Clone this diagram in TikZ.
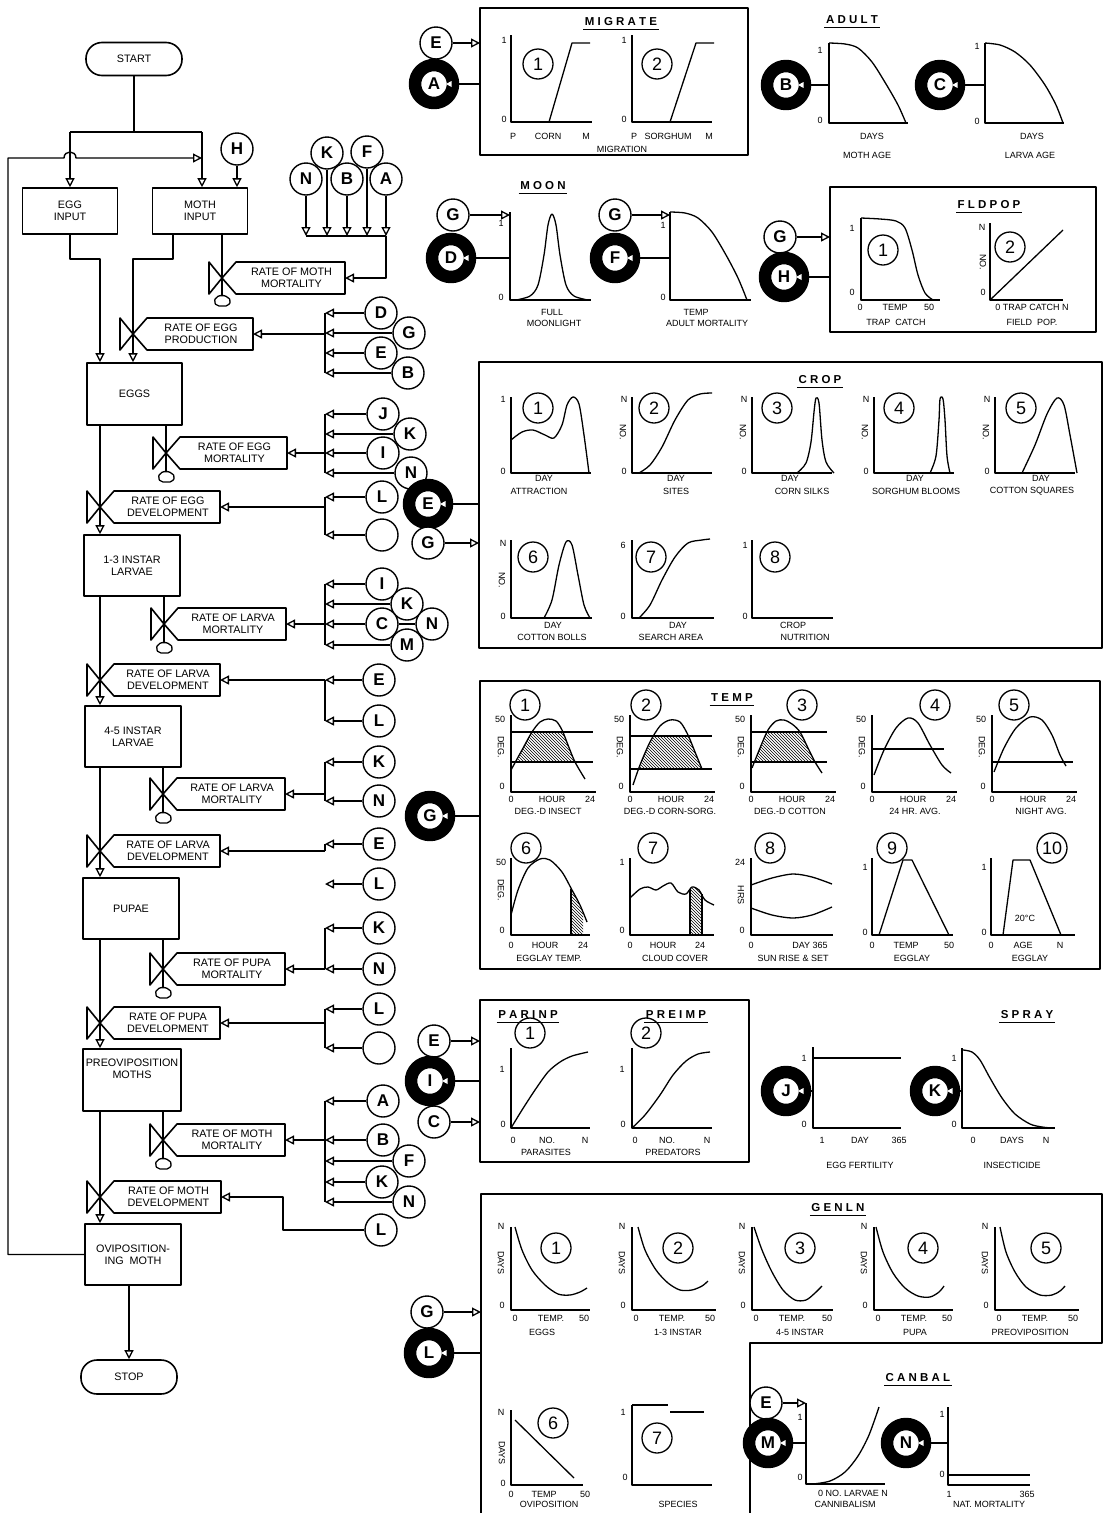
\documentclass[tikz,border=0pt]{standalone}
\usepackage{fontspec}
\setmainfont{Liberation Sans}
\usetikzlibrary{arrows.meta,patterns}
\newcounter{lc}
\newcommand\fB{\fontsize{10.8}{11.8}\selectfont}
\newcommand\fS{\fontsize{9}{9.5}\selectfont}
\newcommand\fC{\bfseries\fontsize{17}{17}\selectfont}
\newcommand\fN{\fontsize{18}{18}\selectfont}
\newcommand\fH{\bfseries\fontsize{11.5}{11.5}\selectfont}
\newcommand\mylab[4][]{\stepcounter{lc}\node[lab,#1] (t\thelc) at (#2,#3) {#4};}
\newcommand\numc[3]{\stepcounter{lc}\node[nc] (n\thelc) at (#1,#2) {#3};}
\newcommand\axes[4]{\draw[ax] (#1,#2) -- (#1,#3) -- (#4,#3);}
\newcommand\ttl[4]{\node[font=\fH, inner sep=1pt] (#1) at (#2,#3) {#4};
  \draw[line width=1.2pt] ([yshift=-1.5pt]#1.south west) -- ([yshift=-1.5pt]#1.south east);}
\newcommand\wtri[1]{\fill[white] ([xshift=12pt]#1.center) -- ([xshift=17.5pt,yshift=3pt]#1.center) -- ([xshift=17.5pt,yshift=-3pt]#1.center) -- cycle;}
\newcommand\ratebox[5]{%
  \draw[line width=1.6pt] (#2-13,#3-16) -- (#2,#3) -- (#2-13,#3+16) -- cycle;
  \draw[line width=1.6pt] (#2,#3) -- (#2+14,#3-16) -- (#4,#3-16) -- (#4,#3+16) -- (#2+14,#3+16) -- cycle;
  \node[rt] (#1) at ({(#2+16+#4)/2},#3) {#5};
  \coordinate (#1-in) at (#4,#3);
  \coordinate (#1-v) at (#2,#3);}
\newcommand\cloud[3]{%
  \draw[line width=1.3pt, rounded corners=2pt] (#2-8,#3+1) -- (#2-6,#3-4) -- (#2,#3-6) -- (#2+6,#3-4) -- (#2+9,#3) -- (#2+6,#3+5) -- (#2-5,#3+5) -- cycle;
  \coordinate (#1) at (#2,#3-6);}
\begin{document}
\begin{tikzpicture}[x=1pt,y=-1pt, line width=1.4pt, line join=round,
 tri/.style={-{Triangle[open,length=9pt,width=9pt,line width=1.3pt]}},
 box/.style={draw,line width=1.6pt,minimum width=96pt,minimum height=61pt,inner sep=1pt,align=center,font=\fB},
 term/.style={draw,line width=1.6pt,rounded corners=16pt,minimum width=96pt,minimum height=33pt,font=\fB},
 lc/.style={circle,draw,fill=white,line width=1.4pt,minimum size=32pt,inner sep=0pt,font=\fC},
 bc/.style={circle,draw,fill=white,line width=12.5pt,minimum size=38pt,inner sep=0pt,font=\fC},
 nc/.style={circle,draw,line width=1.3pt,minimum size=30pt,inner sep=0pt,font=\fN},
 ax/.style={line width=1.6pt},
 cv/.style={line width=1.3pt},
 lab/.style={font=\fS,inner sep=0pt},
 rt/.style={font=\fB,align=center,inner sep=0pt},
 panel/.style={draw,line width=1.7pt,inner sep=0pt,outer sep=0pt}]
\fill[white] (0,0) rectangle (1108,1513);
\useasboundingbox (0,0) rectangle (1108,1513);

% ================= FLOWCHART =================
\node[term] (start) at (134,59) {START};
\coordinate (j0) at (134,132);
\coordinate (jl) at (70,132);
\coordinate (jr) at (202,132);
\node[box,minimum width=95pt,minimum height=46pt] (egginput) at (70,211) {EGG\\INPUT};
\node[box,minimum width=95pt,minimum height=46pt] (mothinput) at (200,211) {MOTH\\INPUT};
\draw (start) -- (j0);
\draw (jl) -- (jr);
\draw[tri] (jl) -- (egginput.north -| jl);
\draw[tri] (jr) -- (mothinput.north -| jr);
\node[lc] (Htop) at (237,149) {H};
\draw[tri] (Htop) -- (mothinput.north -| Htop);

\node[lc] (Nt) at (306,179) {N};
\node[lc] (Kt) at (327,153) {K};
\node[lc] (Ft) at (367,152) {F};
\node[lc] (Bt) at (347,179) {B};
\node[lc] (At) at (386,179) {A};
\coordinate (barM) at (306,236);
\draw (barM) -- (At |- barM);
\foreach \c in {Nt,Kt,Bt,Ft,At} \draw[tri] (\c) -- (\c |- barM);

\ratebox{rmm}{222}{278}{345}{RATE OF MOTH\\MORTALITY}
\cloud{cl1}{222}{301}
\draw (mothinput.south -| rmm-v) -- (cl1);
\draw[tri] (At |- barM) |- (rmm-in);

\node[box,minimum width=95pt,minimum height=62pt] (eggs) at (134.5,394) {EGGS};
\ratebox{rep}{133}{334}{253}{RATE OF EGG\\PRODUCTION}
\ratebox{rem}{166}{453}{287}{RATE OF EGG\\MORTALITY}
\cloud{cl2}{166}{477}
\ratebox{red}{100}{507}{220}{RATE OF EGG\\DEVELOPMENT}
\draw[tri] (egginput.south) -- ++(0,24) -| (eggs.north -| red-v);
\draw[tri] ([xshift=-27pt]mothinput.south) -- ++(0,24) -| (eggs.north -| rep-v);

\node[lc] (Dp) at (381,313) {D};
\node[lc] (Gp) at (409,333) {G};
\node[lc] (Ep) at (381,353) {E};
\node[lc] (Bp) at (408,373) {B};
\coordinate (brP) at (325,313);
\draw (brP) -- (Bp -| brP);
\foreach \c in {Dp,Gp,Ep,Bp} \draw[tri] (\c) -- (\c -| brP);
\draw[tri] (rep-in -| brP) -- (rep-in);

\node[lc] (Jm) at (383,414) {J};
\node[lc] (Km) at (410,434) {K};
\node[lc] (Im) at (383,453) {I};
\node[lc] (Nm) at (411,473) {N};
\coordinate (brEM) at (325,414);
\draw (brEM) -- (Nm -| brEM);
\foreach \c in {Jm,Km,Im,Nm} \draw[tri] (\c) -- (\c -| brEM);
\draw[tri] (rem-in -| brEM) -- (rem-in);
\draw (eggs.south -| rem-v) -- (cl2);

\node[lc] (Ld) at (382,497) {L};
\node[lc] (Od) at (382,535) {};
\coordinate (brED) at (325,497);
\draw (brED) -- (Od -| brED);
\foreach \c in {Ld,Od} \draw[tri] (\c) -- (\c -| brED);
\draw[tri] (red-in -| brED) -- (red-in);

\node[box] (i13) at (132,565.5) {1-3 INSTAR\\LARVAE};
\draw[tri] (eggs.south -| red-v) -- (i13.north -| red-v);
\ratebox{rlm1}{164}{624}{286}{RATE OF LARVA\\MORTALITY}
\cloud{cl3}{164}{648}
\draw (i13.south -| rlm1-v) -- (cl3);
\node[lc] (Il) at (382,584) {I};
\node[lc] (Kl) at (407,604) {K};
\node[lc] (Nl) at (432,624) {N};
\node[lc] (Cl) at (382,624) {C};
\node[lc] (Ml) at (407,645) {M};
\coordinate (brLM1) at (325,584);
\draw (brLM1) -- (Ml -| brLM1);
\foreach \c in {Il,Kl,Cl,Ml} \draw[tri] (\c) -- (\c -| brLM1);
\draw (Cl) -- (Nl);
\draw[tri] (rlm1-in -| brLM1) -- (rlm1-in);

\ratebox{rld1}{100}{680}{220}{RATE OF LARVA\\DEVELOPMENT}
\node[lc] (Ea) at (379,680) {E};
\node[lc] (La) at (379,721) {L};
\coordinate (brLD1) at (325,680);
\draw (brLD1) -- (La -| brLD1);
\foreach \c in {Ea,La} \draw[tri] (\c) -- (\c -| brLD1);
\draw[tri] (rld1-in -| brLD1) -- (rld1-in);

\node[box] (i45) at (133,736.5) {4-5 INSTAR\\LARVAE};
\draw[tri] (i13.south -| rld1-v) -- (i45.north -| rld1-v);
\ratebox{rlm2}{163}{794}{285}{RATE OF LARVA\\MORTALITY}
\cloud{cl4}{163}{818}
\draw (i45.south -| rlm2-v) -- (cl4);
\node[lc] (Kb) at (379,762) {K};
\node[lc] (Nb) at (379,801) {N};
\coordinate (brLM2) at (325,762);
\draw (brLM2) -- (Nb -| brLM2);
\foreach \c in {Kb,Nb} \draw[tri] (\c) -- (\c -| brLM2);
\draw[tri] (rlm2-in -| brLM2) -- (rlm2-in);

\ratebox{rld2}{100}{851}{220}{RATE OF LARVA\\DEVELOPMENT}
\node[lc] (Eb) at (379,844) {E};
\coordinate (brLD2) at (325,844);
\draw (brLD2) -- (rld2-in -| brLD2);
\draw[tri] (Eb) -- (Eb -| brLD2);
\draw[tri] (rld2-in -| brLD2) -- (rld2-in);
\node[lc] (Lb) at (379,884) {L};
\coordinate (brL2) at (325,884);
\draw[tri] (Lb) -- (brL2);

\node[box] (pupae) at (131,908.5) {PUPAE};
\draw[tri] (i45.south -| rld2-v) -- (pupae.north -| rld2-v);
\ratebox{rpm}{163}{969}{285}{RATE OF PUPA\\MORTALITY}
\cloud{cl5}{163}{993}
\draw (pupae.south -| rpm-v) -- (cl5);
\node[lc] (Kc) at (379,928) {K};
\node[lc] (Nc) at (379,969) {N};
\coordinate (brPM) at (325,928);
\draw (brPM) -- (Nc -| brPM);
\foreach \c in {Kc,Nc} \draw[tri] (\c) -- (\c -| brPM);
\draw[tri] (rpm-in -| brPM) -- (rpm-in);

\ratebox{rpd}{100}{1023}{220}{RATE OF PUPA\\DEVELOPMENT}
\node[lc] (Lc) at (379,1009) {L};
\node[lc] (Oc) at (379,1048) {};
\coordinate (brPD) at (325,1009);
\draw (brPD) -- (Oc -| brPD);
\foreach \c in {Lc,Oc} \draw[tri] (\c) -- (\c -| brPD);
\draw[tri] (rpd-in -| brPD) -- (rpd-in);

\node[box,minimum width=98pt,minimum height=62pt] (preov) at (132,1080) {};
\node[rt] (preovt) at (132,1069) {PREOVIPOSITION\\MOTHS};
\draw[tri] (pupae.south -| rpd-v) -- (preov.north -| rpd-v);
\ratebox{rmm2}{163}{1140}{285}{RATE OF MOTH\\MORTALITY}
\cloud{cl6}{163}{1164}
\draw (preov.south -| rmm2-v) -- (cl6);
\node[lc] (Ae) at (383,1101) {A};
\node[lc] (Be) at (383,1140) {B};
\node[lc] (Fe) at (409,1161) {F};
\node[lc] (Ke) at (382,1182) {K};
\node[lc] (Ne) at (409,1202) {N};
\coordinate (brMM) at (325,1101);
\draw (brMM) -- (Ne -| brMM);
\foreach \c in {Ae,Be,Fe,Ke,Ne} \draw[tri] (\c) -- (\c -| brMM);
\draw[tri] (rmm2-in -| brMM) -- (rmm2-in);

\ratebox{rmd}{100}{1197}{221}{RATE OF MOTH\\DEVELOPMENT}
\node[lc] (Lf) at (381,1230) {L};
\coordinate (mdk) at (283,1230);
\draw[tri] (Lf) -- (mdk) |- (rmd-in);

\node[box] (ovip) at (133,1254.5) {OVIPOSITION-\\ING\ \ MOTH};
\draw[tri] (preov.south -| rmd-v) -- (ovip.north -| rmd-v);
\node[term,minimum height=34pt] (stop) at (129,1377) {STOP};
\draw[tri] (ovip.south -| stop) -- (stop.north);
\coordinate (fb) at (8,158);
\coordinate (fbend) at (202,158);
\draw[tri] (ovip.west) -- (ovip.west -| fb) -- (fb) -- (64,158) .. controls (64,150) and (76,150) .. (76,158) -- (fbend);

% ================= MIGRATE =================
\node[panel,minimum width=268pt,minimum height=147pt] (migbox) at (614,81.5) {};
\ttl{tmig}{621}{22}{M I G R A T E}
\node[lc] (Em) at (436,43) {E};
\draw[tri] (Em) -- (Em -| migbox.west);
\node[bc] (A0) at (434,84) {A};
\draw (migbox.west |- A0) -- (A0); \wtri{A0}
\axes{511}{35}{122}{592}
\draw[cv] (549,122) -- (572,43) -- (590,43);
\mylab{504}{40}{1}\mylab{504}{119}{0}\mylab{513}{136}{P}\mylab{548}{136}{CORN}\mylab{586}{136}{M}
\numc{538}{64}{1}
\axes{632}{35}{122}{712}
\draw[cv] (670,122) -- (696,43) -- (714,43);
\mylab{624}{40}{1}\mylab{624}{119}{0}\mylab{634}{136}{P}\mylab{668}{136}{SORGHUM}\mylab{709}{136}{M}
\numc{657}{64}{2}
\mylab{622}{149}{MIGRATION}

% ================= ADULT =================
\ttl{tad}{852}{20}{A D U L T}
\node[bc] (B0) at (786,85) {B};
\coordinate (bax) at (829,85);
\draw (bax) -- (B0); \wtri{B0}
\axes{829}{43}{123}{908}
\draw[cv] plot[smooth] coordinates {(829,43) (845,44) (858,48) (872,62) (886,84) (898,105) (906,123)};
\mylab{820}{50}{1}\mylab{820}{120}{0}\mylab{872}{136}{DAYS}\mylab{867}{155}{MOTH AGE}
\node[bc] (C0) at (940,85) {C};
\coordinate (cax) at (985,85);
\draw (cax) -- (C0); \wtri{C0}
\axes{985}{43}{123}{1064}
\draw[cv] plot[smooth] coordinates {(985,43) (1000,45) (1015,52) (1030,65) (1045,85) (1056,105) (1063,123)};
\mylab{977}{46}{1}\mylab{977}{121}{0}\mylab{1032}{136}{DAYS}\mylab{1030}{155}{LARVA AGE}

% ================= MOON =================
\ttl{tmoon}{543}{186}{M O O N}
\node[lc] (gD) at (453,215) {G};
\coordinate (dax) at (510,215);
\draw[tri] (gD) -- (dax);
\node[bc] (D0) at (451,258) {D};
\coordinate (dax2) at (510,258);
\draw (dax2) -- (D0); \wtri{D0}
\axes{510}{212}{300}{591}
\draw[cv] plot[smooth] coordinates {(516,300) (530,296) (538,285) (544,255) (548,225) (552,214) (556,225) (560,255) (566,285) (574,296) (588,300)};
\mylab{501}{223}{1}\mylab{501}{297}{0}\mylab{552}{312}{FULL}\mylab{554}{323}{MOONLIGHT}

\node[lc] (gF) at (615,215) {G};
\coordinate (fax) at (670,215);
\draw[tri] (gF) -- (fax);
\node[bc] (F0) at (615,258) {F};
\coordinate (fax2) at (670,258);
\draw (fax2) -- (F0); \wtri{F0}
\axes{670}{212}{300}{751}
\draw[cv] plot[smooth] coordinates {(670,212) (685,213) (698,218) (712,232) (726,255) (738,278) (747,300)};
\mylab{663}{225}{1}\mylab{663}{297}{0}\mylab{696}{312}{TEMP}\mylab{707}{323}{ADULT MORTALITY}

% ================= FLDPOP =================
\node[panel,minimum width=266pt,minimum height=145pt] (fldbox) at (963,259.5) {};
\ttl{tfld}{989}{205}{F L D P O P}
\node[lc] (gH) at (780,237) {G};
\draw[tri] (gH) -- (gH -| fldbox.west);
\node[bc] (H0) at (784,277) {H};
\draw (fldbox.west |- H0) -- (H0); \wtri{H0}
\axes{861}{218}{300}{940}
\draw[cv] plot[smooth] coordinates {(861,218) (880,219) (896,221) (905,228) (912,250) (918,275) (925,293) (933,300)};
\numc{883}{250}{1}
\mylab{852}{228}{1}\mylab{852}{292}{0}\mylab{860}{307}{0}\mylab{895}{307}{TEMP}\mylab{929}{307}{50}\mylab{896}{322}{TRAP\ \ CATCH}
\axes{990}{223}{300}{1063}
\draw[cv] (990,300) -- (1063,230);
\numc{1010}{247}{2}
\mylab{982}{227}{N}\mylab[rotate=-90]{983}{262}{NO.}\mylab{983}{292}{0}\mylab{1032}{307}{0 TRAP CATCH N}\mylab{1032}{322}{FIELD\ \ POP.}

% ================= CROP =================
\node[panel,minimum width=623pt,minimum height=286pt] (cropbox) at (790.5,505) {};
\ttl{tcrop}{820}{380}{C R O P}
\node[bc] (E0) at (428,504) {E};
\draw (cropbox.west |- E0) -- (E0); \wtri{E0}
\node[lc] (gE) at (428,543) {G};
\draw[tri] (gE) -- (gE -| cropbox.west);
\foreach \x in {511,632,752,874,995}{\axes{\x}{397}{473}{\x+80} \mylab{\x-8}{471}{0}}
\mylab{503}{399}{1}
\foreach \x in {632,752,874,995}{\mylab{\x-8}{399}{N} \mylab[rotate=-90]{\x-9}{432}{NO.}}
\draw[cv] plot[smooth] coordinates {(511,440) (522,432) (533,430) (545,435) (554,438) (562,425) (567,405) (573,397) (579,404) (584,435) (589,473)};
\draw[cv] plot[smooth] coordinates {(639,473) (650,465) (662,447) (675,420) (688,400) (700,394) (712,393)};
\draw[cv] plot[smooth] coordinates {(797,473) (806,463) (811,442) (814,412) (816,398) (819,403) (822,440) (826,462) (834,473)};
\draw[cv] plot[smooth] coordinates {(930,473) (936,456) (939,420) (940,399) (943,399) (945,420) (947,456) (950,473)};
\draw[cv] plot[smooth] coordinates {(1022,473) (1035,445) (1047,414) (1057,398) (1064,405) (1070,435) (1077,473)};
\numc{538}{408}{1}\numc{654}{408}{2}\numc{777}{408}{3}\numc{899}{408}{4}\numc{1021}{408}{5}
\mylab{544}{478}{DAY}\mylab{539}{491}{ATTRACTION}
\mylab{676}{478}{DAY}\mylab{676}{491}{SITES}
\mylab{790}{478}{DAY}\mylab{802}{491}{CORN SILKS}
\mylab{915}{478}{DAY}\mylab{916}{491}{SORGHUM BLOOMS}
\mylab{1041}{478}{DAY}\mylab{1032}{491}{COTTON SQUARES}
\axes{511}{540}{618}{592}
\mylab{503}{543}{N}\mylab[rotate=-90]{502}{580}{NO.}\mylab{503}{616}{0}
\draw[cv] plot[smooth] coordinates {(544,618) (552,600) (559,565) (566,542) (572,545) (578,575) (584,605) (590,618)};
\numc{533}{557}{6}
\axes{632}{540}{618}{714}
\mylab{623}{545}{6}\mylab{623}{616}{0}
\draw[cv] plot[smooth] coordinates {(639,618) (650,605) (662,580) (675,557) (688,543) (702,540) (710,539)};
\numc{651}{557}{7}
\axes{752}{540}{618}{833}
\mylab{745}{545}{1}\mylab{745}{616}{0}
\numc{775}{557}{8}
\mylab{553}{625}{DAY}\mylab{552}{637}{COTTON BOLLS}
\mylab{678}{625}{DAY}\mylab{671}{637}{SEARCH AREA}
\mylab{793}{625}{CROP}\mylab{805}{637}{NUTRITION}

% ================= TEMP =================
\node[panel,minimum width=620pt,minimum height=288pt] (tempbox) at (790,825) {};
\ttl{ttemp}{732}{698}{T E M P}
\node[bc] (G0) at (430,816) {G};
\draw (tempbox.west |- G0) -- (G0); \wtri{G0}
\foreach \x in {511,630,751,872,992}{
 \axes{\x}{715}{792}{\x+85}
 \mylab{\x-11}{719}{50}
 \mylab{\x-9}{786}{0}
 \mylab[rotate=-90]{\x-10}{747}{DEG.}
 \mylab{\x}{799}{0}
 \mylab{\x+41}{799}{HOUR}
 \mylab{\x+79}{799}{24}}
\numc{525}{705}{1}\numc{646}{705}{2}\numc{802}{705}{3}\numc{935}{705}{4}\numc{1014}{705}{5}
\mylab{548}{811}{DEG.-D INSECT}\mylab{670}{811}{DEG.-D CORN-SORG.}\mylab{790}{811}{DEG.-D COTTON}
\mylab{915}{811}{24 HR. AVG.}\mylab{1041}{811}{NIGHT AVG.}
% g1
\begin{scope}\clip (511,732) rectangle (600,762);
\fill[pattern=north west lines] plot[smooth] coordinates {(511,770) (522,750) (532,732) (540,722) (548,719) (556,721) (562,730) (568,745) (575,762) (585,779)} -- cycle;\end{scope}
\draw[cv] plot[smooth] coordinates {(511,770) (522,750) (532,732) (540,722) (548,719) (556,721) (562,730) (568,745) (575,762) (585,779)};
\draw[cv] (511,732) -- (593,732); \draw[cv] (511,762) -- (593,762);
% g2
\begin{scope}\clip (630,736) rectangle (715,769);
\fill[pattern=north west lines] plot[smooth] coordinates {(633,785) (640,765) (650,742) (660,726) (670,720) (680,722) (688,735) (695,752) (702,769)} -- cycle;\end{scope}
\draw[cv] plot[smooth] coordinates {(633,785) (640,765) (650,742) (660,726) (670,720) (680,722) (688,735) (695,752) (702,769)};
\draw[cv] (630,736) -- (712,736); \draw[cv] (630,769) -- (712,769);
% g3
\begin{scope}\clip (751,732) rectangle (830,762);
\fill[pattern=north west lines] plot[smooth] coordinates {(752,768) (760,748) (768,730) (776,721) (784,720) (792,724) (800,732) (808,748) (815,762) (822,773)} -- cycle;\end{scope}
\draw[cv] plot[smooth] coordinates {(752,768) (760,748) (768,730) (776,721) (784,720) (792,724) (800,732) (808,748) (815,762) (822,773)};
\draw[cv] (751,732) -- (827,732); \draw[cv] (751,762) -- (827,762);
% g4
\draw[cv] plot[smooth] coordinates {(874,775) (884,750) (896,728) (908,718) (918,723) (930,745) (942,765) (951,773)};
\draw[cv] (872,749) -- (944,749);
% g5
\draw[cv] plot[smooth] coordinates {(994,772) (1004,748) (1016,728) (1030,717) (1042,720) (1052,735) (1060,755) (1066,766)};
\draw[cv] (992,762) -- (1073,762);
% row 2
\numc{526}{848}{6}\numc{653}{848}{7}\numc{770}{848}{8}\numc{892}{848}{9}\numc{1052}{848}{10}
\axes{511}{858}{935}{590}
\mylab{501}{862}{50}\mylab[rotate=-90]{501}{890}{DEG.}\mylab{502}{930}{0}
\begin{scope}\clip (571,850) rectangle (583,935);
\fill[pattern=north west lines] plot[smooth] coordinates {(511,915) (518,890) (528,868) (540,859) (550,860) (562,872) (572,890) (580,905) (587,922)} -- (587,935) -- (511,935) -- cycle;\end{scope}
\draw[cv] plot[smooth] coordinates {(511,915) (518,890) (528,868) (540,859) (550,860) (562,872) (572,890) (580,905) (587,922)};
\draw[cv] (571,889) -- (571,935);
\mylab{511}{945}{0}\mylab{545}{945}{HOUR}\mylab{583}{945}{24}\mylab{549}{958}{EGGLAY TEMP.}
\axes{630}{858}{935}{714}
\mylab{622}{862}{1}\mylab{622}{930}{0}
\begin{scope}\clip (690,850) rectangle (702,935);
\fill[pattern=north west lines] plot[smooth] coordinates {(630,898) (640,889) (648,887) (656,890) (663,886) (671,883) (678,892) (686,894) (692,887) (699,890) (705,900) (714,905)} -- (714,935) -- (630,935) -- cycle;\end{scope}
\draw[cv] plot[smooth] coordinates {(630,898) (640,889) (648,887) (656,890) (663,886) (671,883) (678,892) (686,894) (692,887) (699,890) (705,900) (714,905)};
\draw[cv] (690,889) -- (690,935); \draw[cv] (702,894) -- (702,935);
\mylab{630}{945}{0}\mylab{663}{945}{HOUR}\mylab{700}{945}{24}\mylab{675}{958}{CLOUD COVER}
\axes{751}{858}{935}{833}
\mylab{740}{862}{24}\mylab[rotate=-90]{741}{895}{HRS}\mylab{742}{930}{0}
\draw[cv] plot[smooth] coordinates {(751,885) (772,878) (793,874) (812,877) (832,884)};
\draw[cv] plot[smooth] coordinates {(751,908) (772,915) (793,918) (812,915) (832,907)};
\mylab{751}{945}{0}\mylab{810}{945}{DAY 365}\mylab{793}{958}{SUN RISE \& SET}
\axes{872}{858}{935}{953}
\mylab{865}{867}{1}\mylab{865}{932}{0}
\draw[cv] (879,935) -- (903,860) -- (912,860) -- (949,935);
\mylab{872}{945}{0}\mylab{906}{945}{TEMP}\mylab{949}{945}{50}\mylab{912}{958}{EGGLAY}
\axes{991}{858}{935}{1075}
\mylab{984}{867}{1}\mylab{984}{932}{0}
\draw[cv] (1003,935) -- (1013,860) -- (1030,860) -- (1061,935);
\mylab{1025}{918}{20°C}
\mylab{991}{945}{0}\mylab{1023}{945}{AGE}\mylab{1060}{945}{N}\mylab{1030}{958}{EGGLAY}

% ================= PARINP / PREIMP =================
\node[panel,minimum width=269pt,minimum height=162pt] (parbox) at (614.5,1081) {};
\ttl{tpar}{528}{1015}{P A R I N P}
\ttl{tpre}{676}{1015}{P R E I M P}
\node[lc] (eI) at (434,1041) {E};
\draw[tri] (eI) -- (eI -| parbox.west);
\node[bc] (I0) at (430,1081) {I};
\draw (parbox.west |- I0) -- (I0); \wtri{I0}
\node[lc] (cI) at (434,1122) {C};
\draw[tri] (cI) -- (cI -| parbox.west);
\axes{511}{1048}{1128}{590}
\draw[cv] plot[smooth] coordinates {(511,1128) (522,1110) (535,1090) (548,1072) (560,1062) (572,1056) (588,1052)};
\numc{530}{1033}{1}
\mylab{502}{1069}{1}\mylab{503}{1124}{0}\mylab{513}{1140}{0}\mylab{547}{1140}{NO.}\mylab{585}{1140}{N}\mylab{546}{1152}{PARASITES}
\axes{632}{1048}{1128}{712}
\draw[cv] plot[smooth] coordinates {(632,1128) (645,1115) (660,1095) (673,1075) (686,1061) (698,1054) (710,1052)};
\numc{646}{1033}{2}
\mylab{622}{1069}{1}\mylab{623}{1124}{0}\mylab{635}{1140}{0}\mylab{667}{1140}{NO.}\mylab{707}{1140}{N}\mylab{673}{1152}{PREDATORS}

\node[bc] (J0) at (786,1091) {J};
\coordinate (jax) at (813,1091);
\draw (jax) -- (J0); \wtri{J0}
\axes{813}{1047}{1128}{901}
\draw[cv] (813,1058) -- (901,1058);
\mylab{804}{1058}{1}\mylab{804}{1124}{0}\mylab{822}{1140}{1}\mylab{860}{1140}{DAY}\mylab{899}{1140}{365}\mylab{860}{1165}{EGG FERTILITY}

\ttl{tspray}{1027}{1015}{S P R A Y}
\node[bc] (K0) at (935,1091) {K};
\coordinate (kax) at (962,1091);
\draw (kax) -- (K0); \wtri{K0}
\axes{962}{1048}{1128}{1055}
\draw[cv] plot[smooth] coordinates {(963,1050) (972,1052) (980,1060) (990,1078) (1002,1098) (1015,1114) (1030,1124) (1042,1127) (1052,1128)};
\mylab{954}{1058}{1}\mylab{954}{1124}{0}\mylab{973}{1140}{0}\mylab{1012}{1140}{DAYS}\mylab{1046}{1140}{N}\mylab{1012}{1165}{INSECTICIDE}

% ================= GENLN =================
\draw[line width=1.7pt] (481,1513) -- (481,1194) -- (1102,1194) -- (1102,1343) -- (750,1343) -- (750,1513);
\coordinate (genW) at (481,1330);
\ttl{tgen}{838}{1208}{G E N L N}
\node[lc] (gL) at (427,1312) {G};
\draw[tri] (gL) -- (gL -| genW);
\node[bc] (L0) at (429,1353) {L};
\draw (genW |- L0) -- (L0); \wtri{L0}
\foreach \x/\xe in {511/590,632/716,752/833,874/953,995/1079}{
 \axes{\x}{1227}{1310}{\xe}
 \mylab{\x-10}{1226}{N}
 \mylab[rotate=-90]{\x-10}{1263}{DAYS}
 \mylab{\x-9}{1305}{0}
 \mylab{\x+4}{1318}{0}
 \mylab{\x+40}{1318}{TEMP.}
 \mylab{\xe-6}{1318}{50}}
\draw[cv] plot[smooth] coordinates {(515,1227) (522,1250) (532,1270) (545,1285) (558,1294) (570,1295) (580,1292) (587,1288)};
\draw[cv] plot[smooth] coordinates {(638,1227) (645,1250) (656,1270) (668,1283) (680,1290) (692,1290) (702,1286) (708,1281)};
\draw[cv] plot[smooth] coordinates {(754,1227) (762,1250) (772,1272) (783,1290) (795,1300) (806,1300) (815,1293) (822,1286)};
\draw[cv] plot[smooth] coordinates {(876,1227) (883,1252) (893,1273) (905,1288) (918,1296) (930,1297) (939,1292) (944,1286)};
\draw[cv] plot[smooth] coordinates {(1000,1227) (1006,1252) (1015,1272) (1026,1287) (1040,1295) (1052,1295) (1060,1291) (1065,1286)};
\numc{556}{1248}{1}\numc{678}{1248}{2}\numc{800}{1248}{3}\numc{923}{1248}{4}\numc{1046}{1248}{5}
\mylab{542}{1332}{EGGS}\mylab{678}{1332}{1-3 INSTAR}\mylab{800}{1332}{4-5 INSTAR}\mylab{915}{1332}{PUPA}\mylab{1030}{1332}{PREOVIPOSITION}
\axes{511}{1410}{1485}{583}
\draw[cv] (515,1420) -- (574,1478);
\numc{553}{1423}{6}
\mylab{501}{1412}{N}\mylab[rotate=-90]{502}{1453}{DAYS}\mylab{503}{1483}{0}
\mylab{511}{1494}{0}\mylab{544}{1494}{TEMP}\mylab{585}{1494}{50}\mylab{549}{1504}{OVIPOSITION}
\axes{632}{1405}{1485}{712}
\draw[cv] (632,1405) -- (668,1405);
\draw[cv] (670,1412) -- (704,1412);
\numc{657}{1438}{7}
\mylab{623}{1412}{1}\mylab{625}{1477}{0}\mylab{678}{1504}{SPECIES}

% ================= CANBAL =================
\ttl{tcan}{918}{1378}{C A N B A L}
\node[lc] (eM) at (766,1403) {E};
\coordinate (max) at (806,1403);
\draw[tri] (eM) -- (max);
\node[bc] (M0) at (768,1443) {M};
\coordinate (max2) at (806,1443);
\draw (max2) -- (M0); \wtri{M0}
\axes{806}{1403}{1484}{885}
\draw[cv] plot[smooth] coordinates {(813,1484) (830,1481) (845,1472) (858,1456) (869,1435) (879,1407)};
\mylab{800}{1417}{1}\mylab{800}{1477}{0}\mylab{853}{1493}{0 NO. LARVAE N}\mylab{845}{1504}{CANNIBALISM}
\node[bc] (N0) at (906,1443) {N};
\coordinate (nax) at (948,1443);
\draw (nax) -- (N0); \wtri{N0}
\axes{948}{1407}{1485}{1030}
\draw[cv] (948,1475) -- (1030,1475);
\mylab{942}{1414}{1}\mylab{942}{1474}{0}\mylab{949}{1494}{1}\mylab{1027}{1494}{365}\mylab{989}{1504}{NAT. MORTALITY}
\end{tikzpicture}
\end{document}
